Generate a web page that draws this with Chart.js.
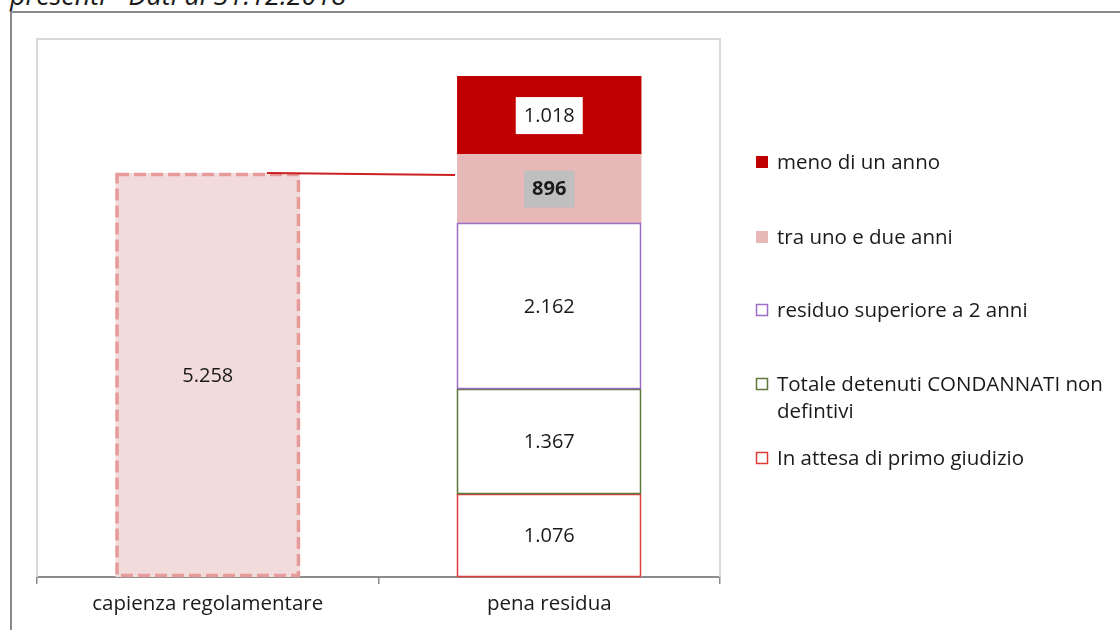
<!DOCTYPE html>
<html>
<head>
<meta charset="utf-8">
<script src="https://cdn.jsdelivr.net/npm/chart.js@4.4.1/dist/chart.umd.min.js"></script>
<style>
    html, body { margin: 0; padding: 0; background: #fff; overflow: hidden; }
    #wrap { position: relative; width: 1120px; height: 630px; }
    #title {
        position: absolute; left: 10px; top: -24px;
        font-family: "Open Sans", sans-serif; font-style: italic;
        font-size: 27px; color: #1a1a1a; white-space: nowrap;
    }
    #frame {
        position: absolute; left: 10px; top: 11px; width: 1200px; height: 700px;
        border-left: 2px solid #8a8a8a; border-top: 2px solid #8a8a8a;
    }
    canvas { position: absolute; left: 0; top: 0; }
</style>
</head>
<body>
<div id="wrap">
    <div id="title">presenti - Dati al 31.12.2018</div>
    <div id="frame"></div>
    <canvas id="chart" width="1120" height="630"></canvas>
</div>
<script>
const categories = ["capienza regolamentare", "pena residua"];

// capacity (first column only)
const capienza = [5258, null];

// residual sentence, bottom to top of the stack
const inAttesa = [null, 1076];
const nonDefinitivi = [null, 1367];
const superiore2 = [null, 2162];
const unoDue = [null, 896];
const menoAnno = [null, 1018];

const FONT = '"Open Sans", Lato, sans-serif';

// value labels in the stacked column
function fmt(v) {
    return v.toLocaleString("de-DE");
}

const labelBoxes = {
    menoAnno: { bg: "#ffffff", bold: false },
    unoDue: { bg: "#bfbfbf", bold: true }
};

const datasets = [
    { key: "capienza", label: "capienza regolamentare", data: capienza, fill: "#f2dcdb", legend: false },
    { key: "inAttesa", label: "In attesa di primo giudizio", data: inAttesa, fill: "#ffffff", line: "#e03c3c" },
    { key: "nonDefinitivi", label: "Totale detenuti CONDANNATI non|defintivi", data: nonDefinitivi, fill: "#ffffff", line: "#5e7a3a" },
    { key: "superiore2", label: "residuo superiore a 2 anni", data: superiore2, fill: "#ffffff", line: "#9b6cc8" },
    { key: "unoDue", label: "tra uno e due anni", data: unoDue, fill: "#e6b8b7" },
    { key: "menoAnno", label: "meno di un anno", data: menoAnno, fill: "#c00000" }
];

const plotFrame = {
    id: "plotFrame",
    beforeDatasetsDraw(chart) {
        const { ctx, chartArea: a } = chart;
        ctx.save();
        ctx.strokeStyle = "#d9d9d9";
        ctx.lineWidth = 2;
        ctx.beginPath();
        ctx.moveTo(a.left, a.bottom);
        ctx.lineTo(a.left, a.top);
        ctx.lineTo(a.right, a.top);
        ctx.lineTo(a.right, a.bottom);
        ctx.stroke();
        ctx.restore();
    }
};

const extras = {
    id: "extras",
    afterDatasetsDraw(chart) {
        const { ctx } = chart;
        const y = chart.scales.y;
        ctx.save();

        // outlined segments (white fill with coloured edge)
        datasets.forEach((d, i) => {
            if (!d.line) return;
            chart.getDatasetMeta(i).data.forEach((el, j) => {
                if (d.data[j] == null) return;
                ctx.strokeStyle = d.line;
                ctx.lineWidth = 1.5;
                ctx.strokeRect(Math.round(el.x - el.width / 2) + 0.5, Math.round(el.y) + 0.5,
                    Math.round(el.width) - 1, Math.round(el.base - el.y) - 1);
            });
        });

        // dashed outline of the capacity column
        const capBar = chart.getDatasetMeta(0).data[0];
        const half = capBar.width / 2;
        ctx.strokeStyle = "#e69a9a";
        ctx.lineWidth = 3.5;
        ctx.setLineDash([12, 5]);
        ctx.strokeRect(capBar.x - half + 1.5, capBar.y + 1.5, capBar.width - 3, capBar.base - capBar.y - 3);
        ctx.setLineDash([]);

        // connector line from capacity to residual column
        const penaBar = chart.getDatasetMeta(1).data[1];
        const capY = y.getPixelForValue(capienza[0]);
        ctx.strokeStyle = "#cc1f1f";
        ctx.lineWidth = 2;
        ctx.beginPath();
        ctx.moveTo(capBar.x + half - 33, capY);
        ctx.lineTo(penaBar.x - penaBar.width / 2 - 2, capY + 2);
        ctx.stroke();

        // value labels
        ctx.textAlign = "center";
        ctx.textBaseline = "middle";
        datasets.forEach((d, i) => {
            chart.getDatasetMeta(i).data.forEach((el, j) => {
                const v = d.data[j];
                if (v == null) return;
                const cy = (el.y + el.base) / 2;
                const box = labelBoxes[d.key];
                ctx.font = (box && box.bold ? "bold " : "") + "20px " + FONT;
                const txt = fmt(v);
                if (box) {
                    const w = ctx.measureText(txt).width + 16;
                    ctx.fillStyle = box.bg;
                    ctx.fillRect(el.x - w / 2, cy - 18, w, 37);
                }
                ctx.fillStyle = "#1a1a1a";
                ctx.fillText(txt, el.x, cy + 1);
            });
        });

        // legend on the right
        const legendY = [162, 237, 310, 384, 458];
        const order = datasets.filter(d => d.legend !== false).slice().reverse();
        ctx.textAlign = "left";
        ctx.font = "20.5px " + FONT;
        order.forEach((d, i) => {
            const ly = legendY[i];
            if (d.line) {
                ctx.fillStyle = "#fff";
                ctx.fillRect(756, ly - 6, 12, 12);
                ctx.strokeStyle = d.line;
                ctx.lineWidth = 1.5;
                ctx.strokeRect(756.5, ly - 5.5, 11, 11);
            } else {
                ctx.fillStyle = d.fill;
                ctx.fillRect(756, ly - 6, 12, 12);
            }
            ctx.fillStyle = "#1a1a1a";
            d.label.split("|").forEach((line, k) => {
                ctx.fillText(line, 777, ly + 1 + k * 27);
            });
        });
        ctx.restore();
    }
};

new Chart(document.getElementById("chart"), {
    type: "bar",
    data: {
        labels: categories,
        datasets: datasets.map(d => ({
            label: d.label,
            data: d.data,
            backgroundColor: d.fill,
            borderWidth: 0,
            categoryPercentage: 1,
            barPercentage: 0.54
        }))
    },
    options: {
        responsive: false,
        animation: false,
        layout: { padding: { left: 37, top: 39, right: 400, bottom: 0 } },
        scales: {
            x: {
                stacked: true,
                grid: { display: true, drawOnChartArea: false, offset: true, tickLength: 7, color: "#8c8c8c", lineWidth: 1.5 },
                border: { color: "#8c8c8c", width: 2 },
                ticks: { color: "#1a1a1a", font: { family: FONT, size: 20.5 }, padding: 8 },
                afterFit: (s) => { s.height = 53; }
            },
            y: {
                stacked: true,
                display: false,
                min: 0,
                max: 7000
            }
        },
        plugins: {
            legend: { display: false },
            tooltip: { enabled: false }
        }
    },
    plugins: [plotFrame, extras]
});
</script>
</body>
</html>
